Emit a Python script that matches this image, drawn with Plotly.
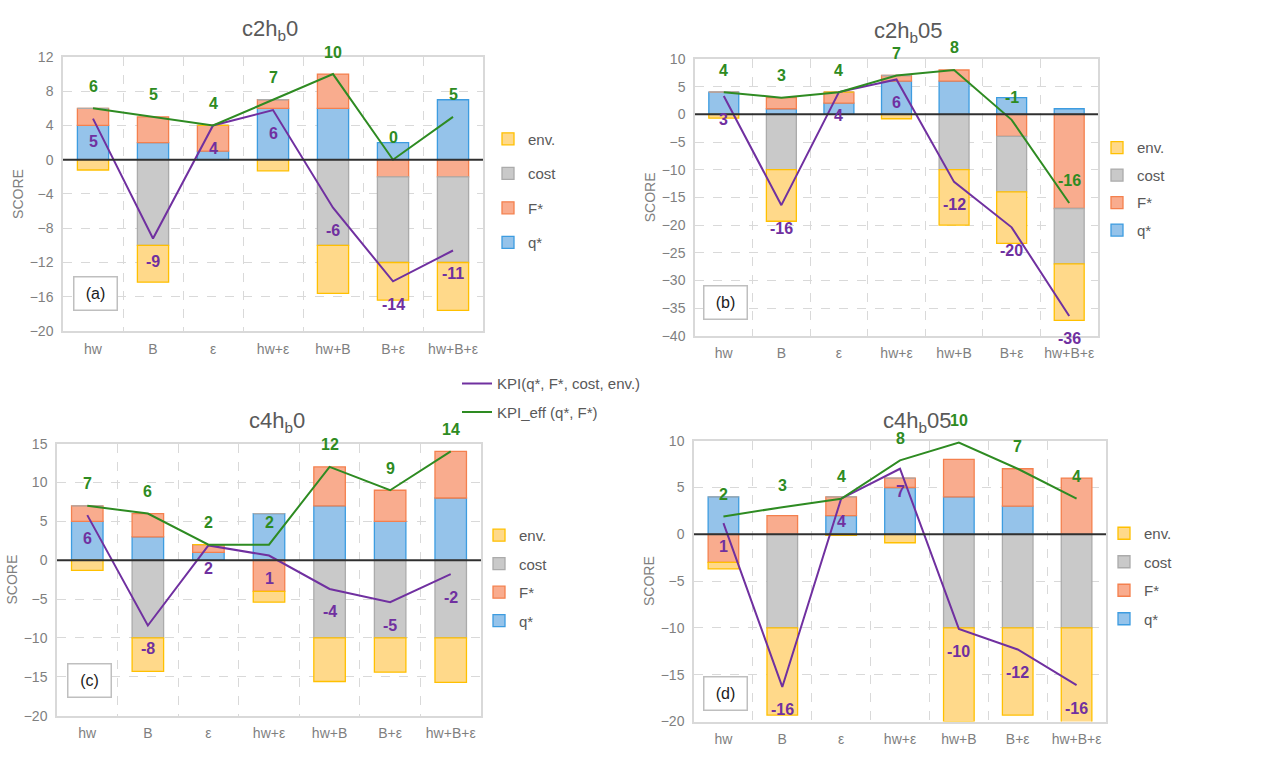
import plotly.graph_objects as go

# ---------------- data ----------------
categories = ["hw", "B", "ε", "hw+ε", "hw+B", "B+ε", "hw+B+ε"]

# panel (a) c2hb0
a_q = [4, 2, 1, 6, 6, 2, 7]
a_F = [2, 3, 3, 1, 4, -2, -2]
a_cost = [0, -10, 0, 0, -10, -10, -10]
a_env = [-1.2, -4.3, 0, -1.3, -5.6, -4.4, -5.6]
a_kpi = [4.8, -9.2, 4.0, 5.8, -5.6, -14.2, -10.6]
a_eff = [6, 5, 4, 7, 10, 0, 5]

# panel (b) c2hb05
b_q = [4, 1, 2, 6, 6, 3, 1]
b_F = [0, 2, 2, 1, 2, -4, -17]
b_cost = [0, -10, 0, 0, -10, -10, -10]
b_env = [-0.7, -9.3, 0, -0.8, -10, -9.3, -10.2]
b_kpi = [3.3, -16.4, 4.0, 6.3, -12.2, -20.4, -36.4]
b_eff = [4, 3, 4, 7, 8, -1, -16]

# panel (c) c4hb0
c_q = [5, 3, 1, 6, 7, 5, 8]
c_F = [2, 3, 1, -4, 5, 4, 6]
c_cost = [0, -10, 0, 0, -10, -10, -10]
c_env = [-1.3, -4.3, 0, -1.4, -5.6, -4.4, -5.7]
c_kpi = [5.8, -8.4, 1.9, 0.6, -3.7, -5.4, -1.8]
c_eff = [7, 6, 2, 2, 12, 9, 14]

# panel (d) c4hb05
d_q = [4, 0, 2, 5, 4, 3, 0]
d_F = [-3, 2, 2, 1, 4, 4, 6]
d_cost = [0, -10, 0, 0, -10, -10, -10]
d_env = [-0.7, -9.3, -0.1, -0.9, -10, -9.3, -10.1]
d_kpi = [1.2, -16.3, 3.8, 7.0, -10.1, -12.3, -16.1]
d_eff = [1.9, 2.9, 3.8, 7.9, 9.8, 7.0, 3.8]

panels = [
    dict(key="a", title="c2h<sub>b</sub>0", q=a_q, F=a_F, cost=a_cost, env=a_env, kpi=a_kpi, eff=a_eff,
         yrange=[-20, 12], dtick=4),
    dict(key="b", title="c2h<sub>b</sub>05", q=b_q, F=b_F, cost=b_cost, env=b_env, kpi=b_kpi, eff=b_eff,
         yrange=[-40, 10], dtick=5),
    dict(key="c", title="c4h<sub>b</sub>0", q=c_q, F=c_F, cost=c_cost, env=c_env, kpi=c_kpi, eff=c_eff,
         yrange=[-20, 15], dtick=5),
    dict(key="d", title="c4h<sub>b</sub>05", q=d_q, F=d_F, cost=d_cost, env=d_env, kpi=d_kpi, eff=d_eff,
         yrange=[-20, 10], dtick=5),
]

# ---------------- layout geometry (pixels of a 1271x757 page) ----------------
W, H = 1271, 757
plot_px = {  # left, right, top, bottom
    "a": (63, 483, 50, 330),
    "b": (695, 1098, 52, 335),
    "c": (57, 481, 445, 723),
    "d": (694, 1106, 442, 729),
}
title_px = {"a": (270, 22), "b": (908, 25), "c": (277, 423), "d": (917, 423)}
legend_px = {"a": (488, 117, 12), "b": (1097, 126, 5), "c": (479, 522, 6), "d": (1104, 520, 6)}
box_pos = {"a": (0.077, 0.136), "b": (0.076, 0.12), "c": (0.077, 0.13), "d": (0.076, 0.10)}

COL = {
    "q": ("#95c3ea", "#3d9ce0"),
    "F": ("#f9ac8e", "#f4804e"),
    "cost": ("#c9c9c9", "#ababab"),
    "env": ("#ffd98a", "#ffc000"),
}
NAMES = {"q": "q*", "F": "F*", "cost": "cost", "env": "env."}
RANK = {"env": 1, "cost": 2, "F": 3, "q": 4}
PURPLE = "#7030a0"
GREEN = "#2e8b22"
FONT = "Liberation Sans, Arial, sans-serif"
GRAY = "#7f7f7f"

fig = go.Figure()
annotations = []
shapes = []
layout_axes = {}

for i, p in enumerate(panels):
    k = p["key"]
    n = "" if i == 0 else str(i + 1)
    xa, ya = "x" + n, "y" + n
    leg = "legend" + n
    for comp in ["q", "F", "cost", "env"]:
        fill, line = COL[comp]
        fig.add_trace(go.Bar(
            x=categories, y=p[comp], name=NAMES[comp], xaxis=xa, yaxis=ya,
            marker=dict(color=fill, line=dict(color=line, width=1.3)),
            legend=leg, legendgroup=k + comp, legendrank=RANK[comp], showlegend=True,
        ))
    fig.add_trace(go.Scatter(
        x=categories, y=p["kpi"], mode="lines", name="KPI(q*, F*, cost, env.)",
        line=dict(color=PURPLE, width=2), xaxis=xa, yaxis=ya,
        legend="legend5", legendgroup="kpi", legendrank=1, showlegend=(i == 0)))
    fig.add_trace(go.Scatter(
        x=categories, y=p["eff"], mode="lines", name="KPI_eff (q*, F*)",
        line=dict(color=GREEN, width=2), xaxis=xa, yaxis=ya,
        legend="legend5", legendgroup="eff", legendrank=2, showlegend=(i == 0)))

    # data labels
    for c, v in zip(categories, p["eff"]):
        annotations.append(dict(x=c, y=v, xref=xa, yref=ya, text="<b>%d</b>" % round(v), showarrow=False,
                                yshift=22, font=dict(family=FONT, size=16, color=GREEN)))
    for c, v in zip(categories, p["kpi"]):
        annotations.append(dict(x=c, y=v, xref=xa, yref=ya, text="<b>%d</b>" % round(v), showarrow=False,
                                yshift=-23, font=dict(family=FONT, size=16, color=PURPLE)))

    l, r, t, b = plot_px[k]
    dom_x = [l / W, r / W]
    dom_y = [1 - b / H, 1 - t / H]
    layout_axes["xaxis" + n] = dict(
        domain=dom_x, anchor=ya, type="category", tickson="boundaries", tickangle=0,
        ticklabelstandoff=4,
        showgrid=True, gridcolor="#d9d9d9", griddash="dash", gridwidth=1,
        showline=True, mirror=True, linecolor="#d9d9d9", linewidth=1.5, ticks="",
        tickfont=dict(family=FONT, size=14, color=GRAY),
    )
    layout_axes["yaxis" + n] = dict(
        domain=dom_y, anchor=xa, range=p["yrange"], dtick=p["dtick"],
        ticklabelstandoff=5,
        showgrid=True, gridcolor="#d9d9d9", griddash="dash", gridwidth=1,
        zeroline=False, showline=True, mirror=True, linecolor="#d9d9d9", linewidth=1.5, ticks="",
        tickfont=dict(family=FONT, size=14, color=GRAY),
        title=dict(text="SCORE", font=dict(family=FONT, size=14, color=GRAY), standoff=3),
    )
    # zero line above bars
    shapes.append(dict(type="line", xref=xa + " domain", yref=ya, x0=0, x1=1, y0=0, y1=0,
                       line=dict(color="#303030", width=2), layer="above"))
    # panel title
    tx, ty = title_px[k]
    annotations.append(dict(x=tx / W, y=1 - ty / H, xref="paper", yref="paper", text=p["title"],
                            xanchor="center", yanchor="middle",
                            showarrow=False, font=dict(family=FONT, size=22, color="#595959")))
    # (a)/(b)... box
    bx, by = box_pos[k]
    annotations.append(dict(x=bx, y=by, xref=xa + " domain", yref=ya + " domain", text="(%s)" % k,
                            xanchor="center", yanchor="middle",
                            showarrow=False, bgcolor="white", bordercolor="#bfbfbf", borderwidth=1.5,
                            width=40, height=30, font=dict(family=FONT, size=16, color="#202020")))
    # legend
    lx, ly, gap = legend_px[k]
    layout_axes[leg] = dict(x=lx / W, y=1 - ly / H, xanchor="left", yanchor="top",
                            traceorder="grouped", tracegroupgap=gap, itemwidth=30,
                            bgcolor="rgba(0,0,0,0)", font=dict(family=FONT, size=15, color="#595959"))

layout_axes["legend5"] = dict(x=457 / W, y=1 - 367 / H, xanchor="left", yanchor="top",
                              traceorder="grouped", tracegroupgap=6, itemwidth=30,
                              bgcolor="rgba(0,0,0,0)", font=dict(family=FONT, size=15, color="#595959"))

fig.update_layout(
    width=W, height=H, margin=dict(l=0, r=0, t=0, b=0),
    paper_bgcolor="white", plot_bgcolor="white",
    barmode="relative", bargap=0.48,
    annotations=annotations, shapes=shapes,
    **layout_axes,
)

fig.write_html("out.html")
